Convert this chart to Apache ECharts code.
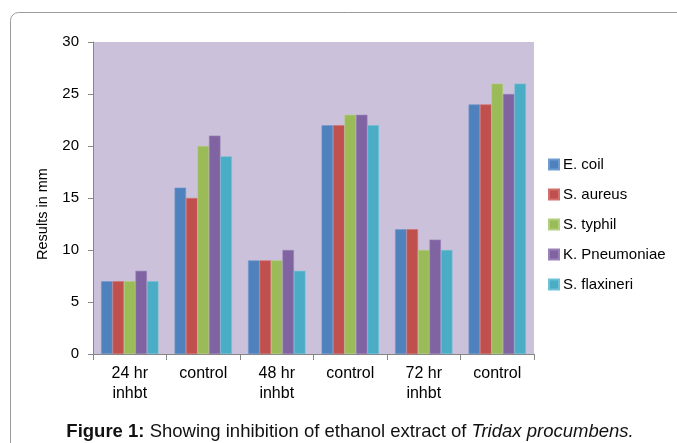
<!DOCTYPE html>
<html>
<head>
<meta charset="utf-8">
<script src="https://cdn.jsdelivr.net/npm/echarts@6/dist/echarts.min.js"></script>
<style>html,body{margin:0;padding:0;background:#fff;}#c{width:677px;height:443px;}</style>
</head>
<body>
<div id="c"></div>
<script>
var categories = ['24 hr\ninhbt', 'control', '48 hr\ninhbt', 'control', '72 hr\ninhbt', 'control'];
var seriesNames = ['E. coil', 'S. aureus', 'S. typhil', 'K. Pneumoniae', 'S. flaxineri'];
var eColi = [7, 16, 9, 22, 12, 24];
var sAureus = [7, 15, 9, 22, 12, 24];
var sTyphi = [7, 20, 9, 23, 10, 26];
var kPneumoniae = [8, 21, 10, 23, 11, 25];
var sFlaxineri = [7, 19, 8, 22, 10, 26];
var yTicks = [0, 5, 10, 15, 20, 25, 30];

var colors = ['#4F81BD', '#C0504D', '#9BBB59', '#8064A2', '#4BACC6'];
var borders = ['#6f9bd0', '#d2706d', '#b1cf7c', '#9a82b8', '#6fc1d6'];
var allData = [eColi, sAureus, sTyphi, kPneumoniae, sFlaxineri];
var font = '"Liberation Sans", Arial, sans-serif';

var chart = echarts.init(document.getElementById('c'), null, {renderer: 'canvas'});
var series = seriesNames.map(function (n, i) {
  return {
    name: n, type: 'bar', data: allData[i],
    barGap: '0%', barCategoryGap: '22%',
    itemStyle: {color: colors[i], borderColor: borders[i], borderWidth: 0.6},
    emphasis: {disabled: true}
  };
});
chart.setOption({
  animation: false,
  color: colors,
  graphic: [
    {type: 'rect', shape: {x: 10.5, y: 12.5, width: 720, height: 500, r: 8},
     style: {fill: 'none', stroke: '#9a9a9a', lineWidth: 1}, z: -10},
    {type: 'text', x: 43, y: 214, rotation: Math.PI / 2,
     style: {text: 'Results in mm', fontFamily: font, fontSize: 14.5, fill: '#000',
             align: 'center', verticalAlign: 'middle'}},
    {type: 'text', x: 350, y: 422,
     style: {
       text: '{b|Figure 1:} Showing inhibition of ethanol extract of {i|Tridax procumbens.}',
       fontFamily: font, fontSize: 18.5, fill: '#111', align: 'center', verticalAlign: 'top',
       rich: {
         b: {fontWeight: 'bold', fontFamily: font, fontSize: 18.5, fill: '#111'},
         i: {fontStyle: 'italic', fontFamily: font, fontSize: 18.5, fill: '#111'}
       }
     }}
  ],
  grid: {left: 93, right: 143, top: 42, bottom: 89, show: true, backgroundColor: '#CCC1DA', borderWidth: 0},
  legend: {
    orient: 'vertical', left: 543, top: 152, itemGap: 15,
    itemWidth: 10, itemHeight: 10, icon: 'rect',
    textStyle: {fontFamily: font, fontSize: 15, color: '#000', padding: [0, 0, 0, -1]},
    data: seriesNames
  },
  xAxis: {
    type: 'category', data: categories,
    axisLine: {lineStyle: {color: '#868686'}},
    axisTick: {show: true, length: 6, lineStyle: {color: '#868686'}, alignWithLabel: false},
    axisLabel: {fontFamily: font, fontSize: 16, color: '#000', margin: 10, lineHeight: 20, interval: 0}
  },
  yAxis: {
    type: 'value', min: yTicks[0], max: yTicks[yTicks.length - 1], interval: 5,
    axisLine: {show: true, lineStyle: {color: '#868686'}},
    axisTick: {show: true, length: 5, lineStyle: {color: '#868686'}},
    splitLine: {show: false},
    axisLabel: {fontFamily: font, fontSize: 15, color: '#000', margin: 14}
  },
  series: series
});
</script>
</body>
</html>
